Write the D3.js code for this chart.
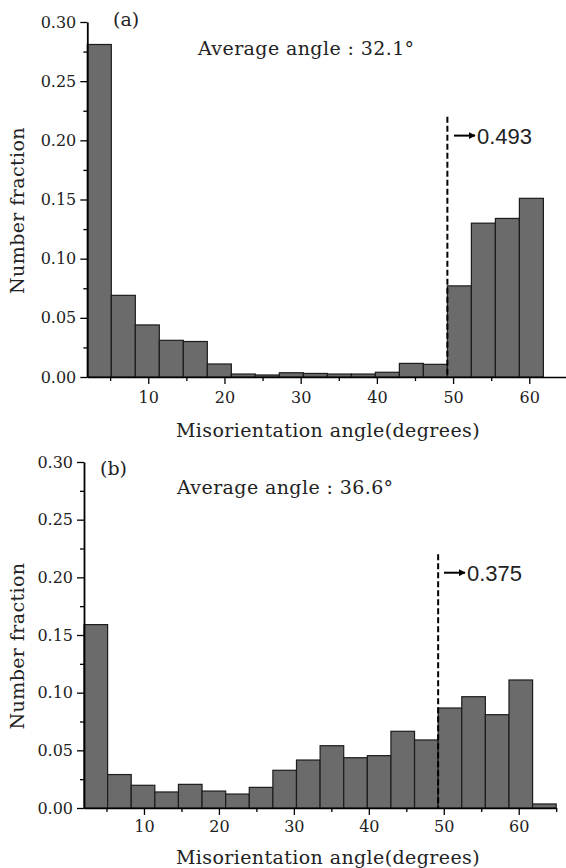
<!DOCTYPE html>
<html>
<head>
<meta charset="utf-8">
<script src="https://cdn.jsdelivr.net/npm/d3@7"></script>
<style>
  body { margin: 0; background: #fff; }
  text { font-family: "DejaVu Serif", serif; fill: #222; }
</style>
</head>
<body>
<div class="container"></div>
<script>
// bin left edges (degrees), last bin ends at 65
const binStart = [2, 5.15, 8.3, 11.45, 14.6, 17.75, 20.9, 24.05, 27.2, 30.35,
    33.5, 36.65, 39.8, 42.95, 46.1, 49.25, 52.4, 55.55, 58.7, 61.85]
const binEnd = 65

const fractionA = [0.281, 0.069, 0.044, 0.031, 0.030, 0.011, 0.0025, 0.0017, 0.0036, 0.003,
    0.0025, 0.0025, 0.004, 0.0115, 0.0107, 0.077, 0.130, 0.134, 0.151, 0]
const fractionB = [0.159, 0.029, 0.0197, 0.0139, 0.0205, 0.0147, 0.0121, 0.0179, 0.0327, 0.0416,
    0.054, 0.0436, 0.0454, 0.0665, 0.059, 0.0867, 0.0965, 0.0809, 0.111, 0.0035]

const xMajorTicks = [10, 20, 30, 40, 50, 60]
const xMinorTicks = [5, 15, 25, 35, 45, 55, 65]
const yMajorTicks = [0, 0.05, 0.10, 0.15, 0.20, 0.25, 0.30]
const yMinorTicks = [0.025, 0.075, 0.125, 0.175, 0.225, 0.275]

const cutoffAngle = 49.25
const panelLabels = ['(a)', '(b)']
const averageLabels = ['Average angle : 32.1°', 'Average angle : 36.6°']
const highFractionLabels = ['0.493', '0.375']

const svg = d3.select('.container')
    .append('svg')
    .attr('width', 566)
    .attr('height', 868)

svg.append('defs').append('marker')
    .attr('id', 'arrow')
    .attr('viewBox', '0 0 10 10')
    .attr('refX', 9).attr('refY', 5)
    .attr('markerWidth', 3.6).attr('markerHeight', 3.6)
    .attr('orient', 'auto')
    .append('path')
    .attr('d', 'M0,0 L10,5 L0,10 z')
    .attr('fill', '#000')

const panels = [
    { values: fractionA, left: 87.3, right: 567.4, top: 22, bottom: 377, tickLabelY: 22, xLabelY: 430,
      labelX: 113, labelY: 19, avgX: 198, avgY: 48, arrowX0: 454 },
    { values: fractionB, left: 84, right: 556.2, top: 462, bottom: 808, tickLabelY: 20, xLabelY: 857,
      labelX: 100, labelY: 468, avgX: 177, avgY: 487, arrowX0: 444 },
]

panels.forEach((p, i) => {
    const xScale = d3.scaleLinear().domain([2, binEnd]).range([p.left, p.right])
    const yScale = d3.scaleLinear().domain([0, 0.30]).range([p.bottom, p.top])

    const g = svg.append('g')

    // bars
    const bins = binStart.map((s, k) => ({ x0: s, x1: k < binStart.length - 1 ? binStart[k + 1] : binEnd, v: p.values[k] }))
    g.selectAll('rect')
        .data(bins.filter(d => d.v > 0))
        .enter()
        .append('rect')
        .attr('x', d => xScale(d.x0))
        .attr('y', d => yScale(d.v))
        .attr('width', d => xScale(d.x1) - xScale(d.x0))
        .attr('height', d => yScale(0) - yScale(d.v))
        .attr('fill', '#6b6b6b')
        .attr('stroke', '#1c1c1c')
        .attr('stroke-width', 1.2)

    // x axis
    const xAxis = g.append('g')
        .attr('transform', `translate(0, ${p.bottom})`)
        .call(d3.axisBottom(xScale).tickValues(xMajorTicks).tickSize(7).tickPadding(p.tickLabelY - 14).tickSizeOuter(0))
    xAxis.select('.domain').attr('stroke-width', 1.6)
    xAxis.selectAll('.tick line').attr('stroke-width', 1.3)
    xAxis.selectAll('text').style('font-size', '16px').style('font-family', '"DejaVu Serif", serif').attr('fill', '#3a3a3a')
    g.append('g')
        .attr('transform', `translate(0, ${p.bottom})`)
        .call(d3.axisBottom(xScale).tickValues(xMinorTicks).tickSize(4).tickFormat(''))
        .call(a => a.select('.domain').remove())
        .selectAll('line').attr('stroke-width', 1.3)

    // y axis
    const yAxis = g.append('g')
        .attr('transform', `translate(${p.left}, 0)`)
        .call(d3.axisLeft(yScale).tickValues(yMajorTicks).tickFormat(d3.format('.2f')).tickSize(7).tickPadding(4).tickSizeOuter(0))
    yAxis.select('.domain').attr('stroke-width', 1.8)
    yAxis.selectAll('.tick line').attr('stroke-width', 1.3)
    yAxis.selectAll('text').style('font-size', '16px').style('font-family', '"DejaVu Serif", serif').attr('fill', '#3a3a3a')
    g.append('g')
        .attr('transform', `translate(${p.left}, 0)`)
        .call(d3.axisLeft(yScale).tickValues(yMinorTicks).tickSize(4).tickFormat(''))
        .call(a => a.select('.domain').remove())
        .selectAll('line').attr('stroke-width', 1.3)

    // axis titles
    g.append('text')
        .attr('x', 328)
        .attr('y', p.xLabelY)
        .attr('dy', '0.35em')
        .attr('text-anchor', 'middle')
        .style('font-size', '19px')
        .style('letter-spacing', '0.4px')
        .text('Misorientation angle(degrees)')
    g.append('text')
        .attr('transform', `translate(17, ${(p.top + p.bottom) / 2 + 11}) rotate(-90)`)
        .attr('dy', '0.35em')
        .attr('text-anchor', 'middle')
        .style('font-size', '19px')
        .style('letter-spacing', '0.4px')
        .text('Number fraction')

    g.append('text')
        .attr('x', p.labelX)
        .attr('y', p.labelY)
        .attr('dy', '0.35em')
        .style('font-size', '19px')
        .text(panelLabels[i])
    g.append('text')
        .attr('x', p.avgX)
        .attr('y', p.avgY)
        .attr('dy', '0.35em')
        .style('font-size', '19px')
        .style('letter-spacing', '0.4px')
        .attr('xml:space', 'preserve')
        .text(averageLabels[i])

    // dashed cutoff line + arrow label
    g.append('line')
        .attr('x1', xScale(cutoffAngle)).attr('x2', xScale(cutoffAngle))
        .attr('y1', yScale(0.22)).attr('y2', yScale(0))
        .attr('stroke', '#000')
        .attr('stroke-width', 2)
        .attr('stroke-dasharray', '6,3')
    g.append('line')
        .attr('x1', p.arrowX0).attr('x2', p.arrowX0 + 21)
        .attr('y1', yScale(0.204)).attr('y2', yScale(0.204))
        .attr('stroke', '#000')
        .attr('stroke-width', 2)
        .attr('marker-end', 'url(#arrow)')
    g.append('text')
        .attr('x', p.arrowX0 + 23)
        .attr('y', yScale(0.204))
        .attr('dy', '0.36em')
        .style('font-family', '"Liberation Sans", Arial, sans-serif')
        .style('font-size', '22px')
        .attr('fill', '#000')
        .text(highFractionLabels[i])
})
</script>
</body>
</html>
